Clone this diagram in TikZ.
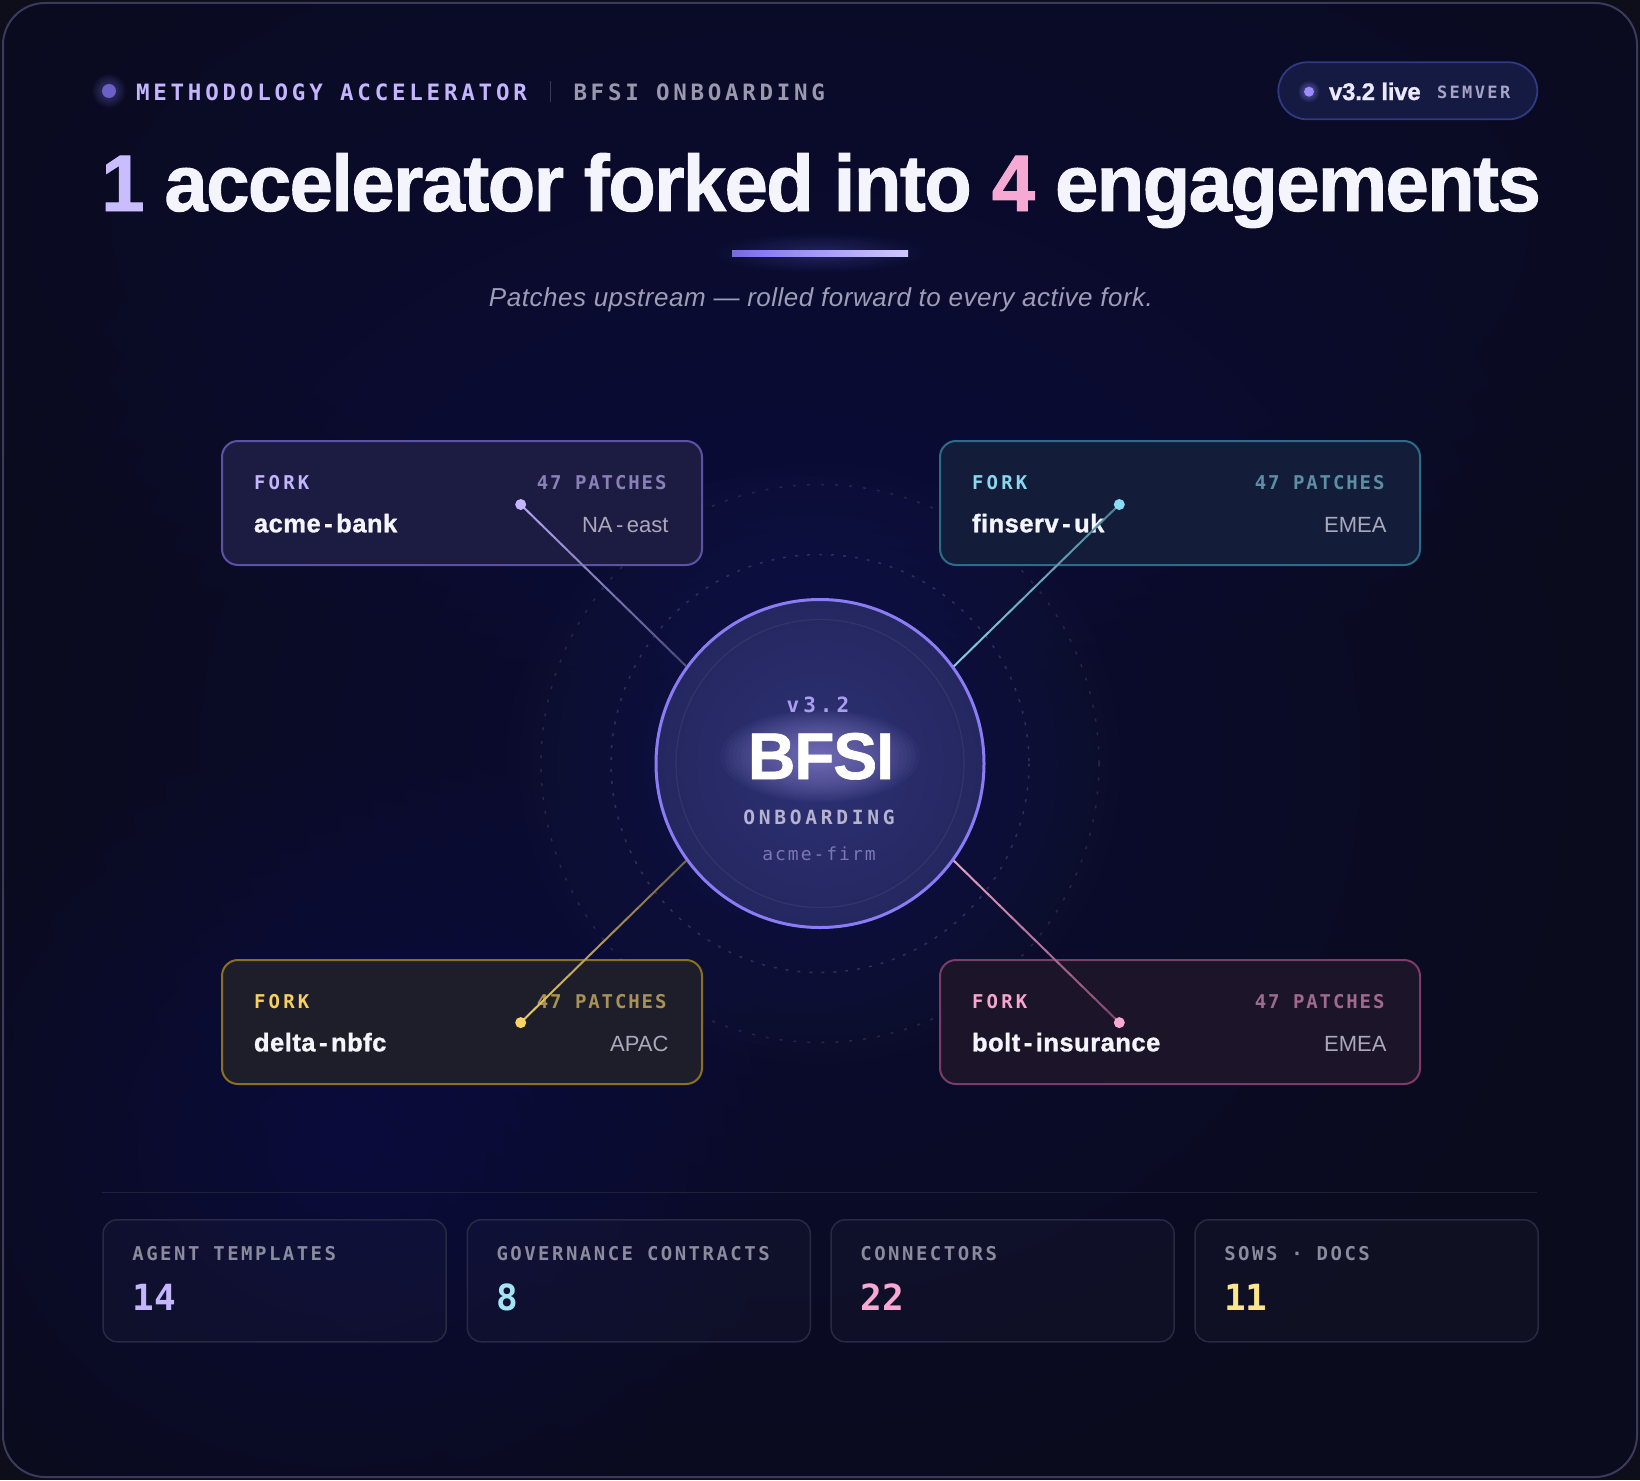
\documentclass[tikz,border=0pt]{standalone}
\usepackage{fontspec}
\usepackage{graphicx}
\setmainfont{Liberation Sans}
\newfontfamily\mono{DejaVu Sans Mono}
\usetikzlibrary{calc}

\definecolor{bgout}{HTML}{0D0E1A}
\definecolor{bgbase}{HTML}{0A0B1C}
\definecolor{frameb}{HTML}{3B3A5E}
\definecolor{glowA}{HTML}{1E2052}
\definecolor{glowB}{HTML}{1D2158}
\definecolor{glowC}{HTML}{15183F}
\definecolor{hubhalo}{HTML}{2B2D64}
\definecolor{hdr}{HTML}{C4B5FD}
\definecolor{hdrtwo}{HTML}{9A98AE}
\definecolor{sepc}{HTML}{3A3A55}
\definecolor{hdot}{HTML}{6C60C6}
\definecolor{pillf}{HTML}{141A42}
\definecolor{pillb}{HTML}{2F3A82}
\definecolor{pdot}{HTML}{9D8CFF}
\definecolor{pilltxt}{HTML}{ECE8FF}
\definecolor{semv}{HTML}{A7A3C6}
\definecolor{titlec}{HTML}{F4F4FD}
\definecolor{onec}{HTML}{C9BCFF}
\definecolor{fourc}{HTML}{F6A9D2}
\definecolor{subc}{HTML}{9D9DB6}
\definecolor{ula}{HTML}{3E3890}
\definecolor{ulb}{HTML}{8C7FF5}
\definecolor{ulc}{HTML}{D0C8FF}
\definecolor{uld}{HTML}{4A4680}
\definecolor{ulglow}{HTML}{5A50C0}
\definecolor{ringc}{HTML}{8B7CF6}
\definecolor{hubin}{HTML}{2E3174}
\definecolor{hubout}{HTML}{1B1D4C}
\definecolor{innerring}{HTML}{33356A}
\definecolor{dashone}{HTML}{2D2F5E}
\definecolor{dashtwo}{HTML}{25274A}
\definecolor{vc}{HTML}{AA9DF2}
\definecolor{onbc}{HTML}{B5B3CF}
\definecolor{firmc}{HTML}{7D76B4}
\definecolor{bfsiglow}{HTML}{9A92E0}
\definecolor{namec}{HTML}{F4F4FB}
\definecolor{regc}{HTML}{A9A9BB}
% fork boxes
\definecolor{fAfill}{HTML}{1C1C42}\definecolor{fAbord}{HTML}{5D51A3}
\definecolor{fAfork}{HTML}{C4B5FD}\definecolor{fApat}{HTML}{8A80B8}
\definecolor{fBfill}{HTML}{131D3A}\definecolor{fBbord}{HTML}{2A6C89}
\definecolor{fBfork}{HTML}{8AD8EF}\definecolor{fBpat}{HTML}{5D8EA5}
\definecolor{fCfill}{HTML}{1E1E2B}\definecolor{fCbord}{HTML}{8A7023}
\definecolor{fCfork}{HTML}{F7D060}\definecolor{fCpat}{HTML}{A89258}
\definecolor{fDfill}{HTML}{1C1429}\definecolor{fDbord}{HTML}{7A3C68}
\definecolor{fDfork}{HTML}{F7A6CF}\definecolor{fDpat}{HTML}{A06A8C}
% connectors
\definecolor{lAa}{HTML}{B4A6F0}\definecolor{lAb}{HTML}{4C4A7E}
\definecolor{lBa}{HTML}{86D0DE}\definecolor{lBb}{HTML}{4A8496}
\definecolor{lCa}{HTML}{F0CC62}\definecolor{lCb}{HTML}{6E6244}
\definecolor{lDa}{HTML}{E8A4C4}\definecolor{lDb}{HTML}{7E4470}
\definecolor{dA}{HTML}{C4B5FD}\definecolor{dB}{HTML}{86DCF2}
\definecolor{dC}{HTML}{FCD462}\definecolor{dD}{HTML}{F9A8D4}
% stats
\definecolor{cardb}{HTML}{282A44}
\definecolor{statl}{HTML}{8B8B9E}
\definecolor{statsep}{HTML}{1F2138}
\definecolor{vA}{HTML}{C4B5FD}\definecolor{vB}{HTML}{A5E4F4}
\definecolor{vC}{HTML}{F9A8D4}\definecolor{vD}{HTML}{FDE68A}

\pgfdeclareradialshading{hubsh}{\pgfpoint{0bp}{0bp}}{color(0bp)=(hubin); color(50bp)=(hubout)}
\pgfdeclarehorizontalshading{ulsh}{100bp}{color(0bp)=(ula); color(35bp)=(ulb); color(75bp)=(ulc); color(100bp)=(uld)}

\newcommand\fs[1]{\fontsize{#1}{#1}\selectfont}
\newcommand\trk[2]{{\addfontfeatures{LetterSpace=#1}#2}}
\newcommand\hy{\kern3.5pt-\kern3.5pt}

% soft glow: stacked translucent ellipses (center, rx, ry, colour, step opacity)
\newcommand\glow[5]{%
  \foreach \i in {1,...,24}{%
    \fill[#4, opacity=#5] (#1) ellipse [x radius={#2/24*\i}, y radius={#3/24*\i}];
  }}

\newcommand\gline[4]{%
  \foreach \k in {0,...,13}{%
    \pgfmathsetmacro\pa{\k/14}%
    \pgfmathsetmacro\pb{(\k+1)/14}%
    \pgfmathsetmacro\pc{100-(\k+0.5)*100/14}%
    \draw[line width=2, draw=#3!\pc!#4] ($(#1)!\pa!(#2)$) -- ($(#1)!\pb!(#2)$);
  }}

\newcommand\fork[9]{%
  \node[forkbox, fill=#4, draw=#5] (#1) at (#2,#3) {};
  \node[lab, anchor=base west, font=\mono\bfseries\fs{19}, text=#6] (#1f) at ([shift={(33,49.5)}]#1.north west) {\trk{17}{FORK}};
  \node[lab, anchor=base east, font=\mono\bfseries\fs{19}, text=#7] (#1p) at ([shift={(-36.5,49.5)}]#1.north east) {\trk{10}{47 PATCHES}};
  \node[lab, anchor=base west, font=\bfseries\fs{25.5}, text=namec] (#1n) at ([shift={(33,92.3)}]#1.north west) {{\addfontfeatures{LetterSpace=2,FakeBold=1.2}#8}};
  \node[lab, anchor=base east, font=\fs{22}, text=regc] (#1r) at ([shift={(-34.5,92.3)}]#1.north east) {#9};
}

\newcommand\stat[5]{%
  \node[card] (#1) at (#2,1219) {};
  \node[lab, anchor=base west, font=\mono\bfseries\fs{19}, text=statl] (#1l) at ([shift={(30,41)}]#1.north west) {\trk{13}{#3}};
  \node[lab, anchor=base west, font=\mono\bfseries\fs{36}, text=#5] (#1v) at ([shift={(30,91)}]#1.north west) {#4};
}

\begin{document}
\begin{tikzpicture}[x=1pt, y=-1pt,
  lab/.style={inner sep=0, outer sep=0},
  forkbox/.style={rectangle, rounded corners=16, line width=2, minimum width=480, minimum height=124, anchor=north west, inner sep=0},
  card/.style={rectangle, rounded corners=14, draw=cardb, fill=white, fill opacity=0.025, line width=1.5, minimum width=343, minimum height=122, anchor=north west, inner sep=0},
  dotn/.style={circle, inner sep=0, minimum size=11},
]
\useasboundingbox (0,0) rectangle (1640,1480);

% background
\fill[bgout] (0,0) rectangle (1640,1480);
\fill[bgbase, rounded corners=42] (3,3) rectangle (1637,1477);
\begin{scope}
  \clip[rounded corners=42] (3,3) rectangle (1637,1477);
  \coordinate (gC) at (820,230);
  \coordinate (gA) at (780,760);
  \coordinate (gB) at (340,1150);
  \glow{gC}{1000}{450}{glowC}{0.04}
  \glow{gA}{820}{760}{glowA}{0.036}
  \glow{gB}{440}{400}{glowB}{0.035}
\end{scope}
\coordinate (hc) at (820,763.5);
\glow{hc}{300}{300}{hubhalo}{0.03}
\draw[dashtwo, line width=1.5, dash pattern=on 3pt off 11pt] (hc) circle[radius=279];
\draw[dashone, line width=1.5, dash pattern=on 3pt off 9pt] (hc) circle[radius=209];
\draw[frameb, line width=2, rounded corners=42] (3,3) rectangle (1637,1477);

% header
\coordinate (hdc) at (109,91);
\glow{hdc}{17}{17}{hdot}{0.03}
\node[circle, inner sep=0, minimum size=14, fill=hdot] (hdotn) at (hdc) {};
\node[lab, anchor=base west, font=\mono\bfseries\fs{22.5}, text=hdr] (h1) at (136,100) {\trk{16.8}{METHODOLOGY ACCELERATOR}};
\draw[sepc, line width=1.5] (550.5,81) -- (550.5,102);
\node[lab, anchor=base west, font=\mono\bfseries\fs{22.5}, text=hdrtwo] (h2) at (573.5,100) {\trk{16.5}{BFSI ONBOARDING}};

% pill
\node[draw=pillb, fill=pillf, line width=1.8, rounded corners=28.5, minimum width=259, minimum height=57, inner sep=0] (pill) at (1407.8,90.8) {};
\coordinate (pdc) at (1309,91.7);
\glow{pdc}{11}{11}{pdot}{0.03}
\node[circle, inner sep=0, minimum size=10, fill=pdot] (pdotn) at (pdc) {};
\node[lab, anchor=base west, font=\bfseries\fs{24}, text=pilltxt] (live) at (1329,100) {{\addfontfeatures{LetterSpace=-1,FakeBold=1}v3.2 live}};
\node[lab, anchor=base west, font=\mono\bfseries\fs{17}, text=semv] (semver) at (1437,98.3) {\trk{14}{SEMVER}};

% title
\node[lab, anchor=base, font=\bfseries\fs{80}, text=titlec] (title) at (821,211) {\scalebox{0.972}[1]{{\addfontfeatures{LetterSpace=-2,FakeBold=1.2}{\color{onec}1} accelerator forked into {\color{fourc}4} engagements}}};
\coordinate (ulc) at (820,253);
\glow{ulc}{105}{20}{ulglow}{0.02}
\shade[shading=ulsh] (732,250) rectangle (908,256);
\node[lab, anchor=base, font=\itshape\fs{26}, text=subc] (sub) at (821,306.7) {\trk{2}{Patches upstream — rolled forward to every active fork.}};

% fork boxes
\fork{bA}{221}{440}{fAfill}{fAbord}{fAfork}{fApat}{acme\hy bank}{NA\hy east}
\fork{bB}{939}{440}{fBfill}{fBbord}{fBfork}{fBpat}{finserv\hy uk}{EMEA}
\fork{bC}{221}{959}{fCfill}{fCbord}{fCfork}{fCpat}{delta\hy nbfc}{APAC}
\fork{bD}{939}{959}{fDfill}{fDbord}{fDfork}{fDpat}{bolt\hy insurance}{EMEA}

% hub
\node[circle, minimum size=328, inner sep=0, draw=ringc, line width=3, shade, shading=hubsh] (hub) at (hc) {};
\draw[innerring, line width=1.2] (hub.center) circle[radius=144];
\coordinate (bgc) at (820,756);
\glow{bgc}{100}{46}{bfsiglow}{0.045}
\node[lab, anchor=base, font=\mono\bfseries\fs{21}, text=vc] (ver) at (818,712.3) {\trk{19}{v3.2}};
\node[lab, anchor=base, font=\bfseries\fs{66}, text=white] (bfsi) at (821,779) {{\addfontfeatures{LetterSpace=-2,FakeBold=1}BFSI}};
\node[lab, anchor=base, font=\mono\bfseries\fs{19.6}, text=onbc] (onb) at (819,824.3) {\trk{19}{ONBOARDING}};
\node[lab, anchor=base, font=\mono\fs{18}, text=firmc] (firm) at (819,860) {\trk{11}{acme-firm}};

% connectors
\coordinate (pA) at (520.7,504.5);
\coordinate (pB) at (1119.3,504.5);
\coordinate (pC) at (520.7,1022.6);
\coordinate (pD) at (1119.3,1022.6);
\gline{pA}{hub.144}{lAa}{lAb}
\gline{hub.36}{pB}{lBa}{lBb}
\gline{pC}{hub.216}{lCa}{lCb}
\gline{hub.324}{pD}{lDa}{lDb}
\node[dotn, fill=dA] (dotA) at (pA) {};
\node[dotn, fill=dB] (dotB) at (pB) {};
\node[dotn, fill=dC] (dotC) at (pC) {};
\node[dotn, fill=dD] (dotD) at (pD) {};

% stats
\draw[statsep, line width=1.5] (102,1192.7) -- (1537,1192.7);
\stat{sA}{102.4}{AGENT TEMPLATES}{14}{vA}
\stat{sB}{466.5}{GOVERNANCE CONTRACTS}{8}{vB}
\stat{sC}{830.4}{CONNECTORS}{22}{vC}
\stat{sD}{1194.3}{SOWS · DOCS}{11}{vD}
\end{tikzpicture}
\end{document}
